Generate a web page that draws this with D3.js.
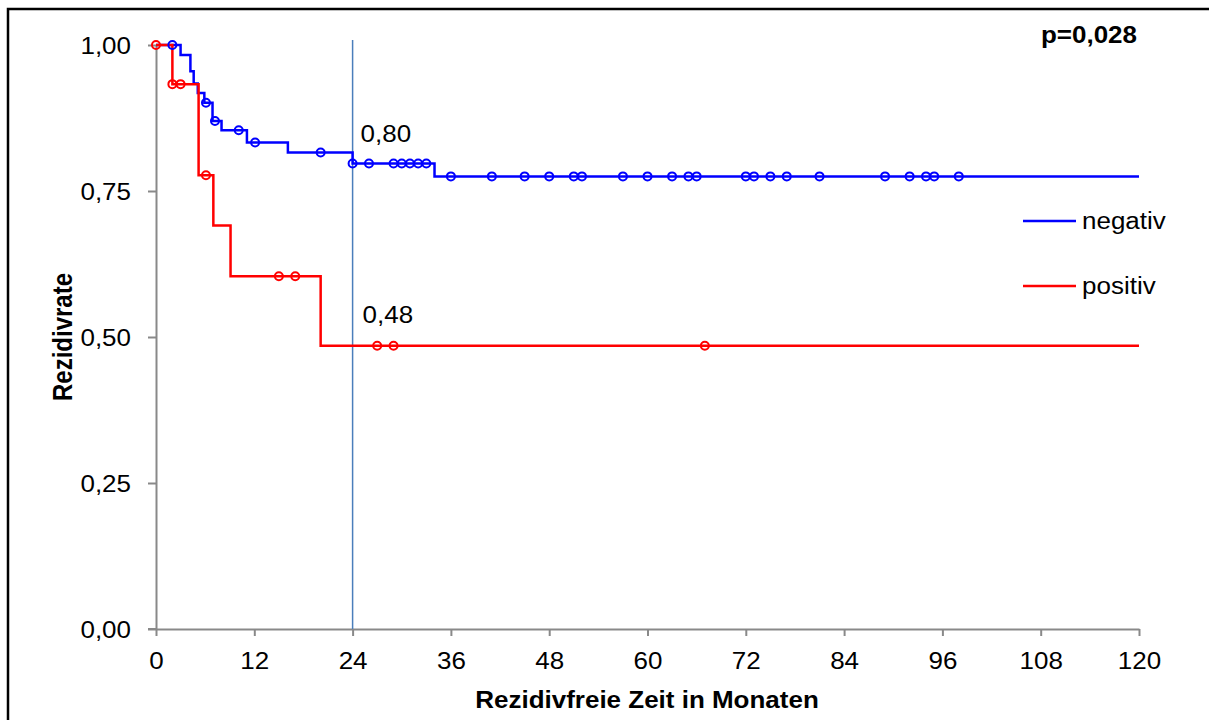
<!DOCTYPE html>
<html lang="de">
<head>
<meta charset="utf-8">
<title>Rezidivrate</title>
<script src="https://cdn.jsdelivr.net/npm/d3@7"></script>
<style>
  body { margin: 0; background: #fff; }
  text { font-family: "Liberation Sans", Arial, sans-serif; fill: #000; }
</style>
</head>
<body>
<script>
// Kaplan-Meier Daten
var negTime = [0, 3, 4.2, 4.6, 5.1, 5.9, 6.9, 8.0, 11.1, 16.1, 24.0, 34.0, 120];
var negSurv = [1.0, 0.983, 0.955, 0.934, 0.918, 0.901, 0.870, 0.854, 0.833, 0.816, 0.797, 0.775, 0.775];
var negCensor = [2, 6.1, 7.2, 10.1, 12.1, 20.1, 24, 26, 29, 30, 31, 32, 33, 36, 41, 45, 48, 51, 52,
                 57, 60, 63, 65, 66, 72, 73, 75, 77, 81, 89, 92, 94, 95, 98];

var posTime = [0, 2.0, 5.2, 7.0, 9.1, 20.1, 120];
var posSurv = [1.0, 0.933, 0.777, 0.691, 0.604, 0.485, 0.485];
var posCensor = [0, 2, 3, 6.1, 15, 17, 27, 29, 67];

var xTicks = [0, 12, 24, 36, 48, 60, 72, 84, 96, 108, 120];
var yTicks = [0, 0.25, 0.5, 0.75, 1.0];
var seriesNames = ["negativ", "positiv"];
var seriesColors = ["#0000ff", "#ff0000"];
var refTime = 24;
var refLabels = ["0,80", "0,48"];
var pText = "p=0,028";

var w = 1209, h = 720;
var stretch = 1.13; // die Vorlage ist horizontal etwas gestreckt

var svg = d3.select("body").append("svg")
  .attr("width", w)
  .attr("height", h);

// Rahmen
svg.append("rect")
  .attr("x", 8).attr("y", 9)
  .attr("width", 1220).attr("height", 740)
  .attr("fill", "none")
  .attr("stroke", "#000")
  .attr("stroke-width", 2.5);

var x = d3.scaleLinear().domain([0, 120]).range([156, 1139]);
var y = d3.scaleLinear().domain([0, 1]).range([629, 45]);

function label(g, tx, ty, str, opts) {
  opts = opts || {};
  return g.append("text")
    .attr("transform", "translate(" + tx + "," + ty + ") scale(" + stretch + ",1)" + (opts.rotate ? " rotate(-90)" : ""))
    .attr("text-anchor", opts.anchor || "start")
    .attr("font-size", (opts.size || 23) + "px")
    .attr("font-weight", opts.bold ? "bold" : "normal")
    .text(str);
}

// Achsen
var axisColor = "#898989";
var xAxis = svg.append("g")
  .attr("transform", "translate(0," + y(0) + ")")
  .call(d3.axisBottom(x).tickValues(xTicks).tickSize(7).tickSizeOuter(0).tickFormat(d3.format("d")));
var yAxis = svg.append("g")
  .attr("transform", "translate(" + x(0) + ",0)")
  .call(d3.axisLeft(y).tickValues(yTicks).tickSize(8).tickSizeOuter(0)
    .tickFormat(function(d) { return d3.format(".2f")(d).replace(".", ","); }));

[xAxis, yAxis].forEach(function(a) {
  a.select(".domain").attr("stroke", axisColor).attr("stroke-width", 2);
  a.selectAll(".tick line").attr("stroke", axisColor).attr("stroke-width", 2);
  a.selectAll(".tick text")
    .attr("font-family", "Liberation Sans, Arial, sans-serif")
    .attr("font-size", "23px")
    .attr("fill", "#000");
});
xAxis.selectAll(".tick text").attr("y", 0).attr("dy", 0)
  .attr("transform", "translate(0,40) scale(" + stretch + ",1)");
yAxis.selectAll(".tick text").attr("x", 0).attr("dy", "0.36em")
  .attr("transform", "translate(-25,0) scale(" + stretch + ",1)");
// x-Achse etwas nach links verlängert
xAxis.append("line").attr("x1", x(0) - 8).attr("x2", x(0))
  .attr("stroke", axisColor).attr("stroke-width", 2);

// Achsentitel
label(svg, 647, 708, "Rezidivfreie Zeit in Monaten", { anchor: "middle", bold: true });
label(svg, 72, 337, "Rezidivrate", { anchor: "middle", bold: true, rotate: true, size: 24 });

// Referenzlinie bei 24 Monaten
svg.append("line")
  .attr("x1", x(refTime)).attr("x2", x(refTime))
  .attr("y1", 40).attr("y2", y(0))
  .attr("stroke", "#4a7ebb").attr("stroke-width", 1.5);

var line = d3.line()
  .x(function(d) { return x(d[0]); })
  .y(function(d) { return y(d[1]); })
  .curve(d3.curveStepAfter);

function survAt(times, surv, t) {
  var v = surv[0];
  for (var i = 0; i < times.length; i++) if (times[i] <= t + 1e-9) v = surv[i];
  return v;
}

var series = [
  { times: negTime, surv: negSurv, cens: negCensor, color: seriesColors[0] },
  { times: posTime, surv: posSurv, cens: posCensor, color: seriesColors[1] }
];

series.forEach(function(s) {
  svg.append("path")
    .datum(d3.zip(s.times, s.surv))
    .attr("d", line)
    .attr("fill", "none")
    .attr("stroke", s.color)
    .attr("stroke-width", 2.5);
});

series.forEach(function(s) {
  svg.selectAll(null)
    .data(s.cens)
    .enter()
    .append("circle")
    .attr("cx", function(d) { return x(d); })
    .attr("cy", function(d) { return y(survAt(s.times, s.surv, d)); })
    .attr("r", 4)
    .attr("fill", "none")
    .attr("stroke", s.color)
    .attr("stroke-width", 2);
});

// Werte bei 24 Monaten
label(svg, x(refTime) + 8, 142, refLabels[0]);
label(svg, x(refTime) + 10, 323, refLabels[1]);

// p-Wert
label(svg, 1137, 43, pText, { anchor: "end", bold: true });

// Legende
seriesNames.forEach(function(n, i) {
  var ly = 221 + i * 65;
  svg.append("line")
    .attr("x1", 1023).attr("x2", 1076)
    .attr("y1", ly).attr("y2", ly)
    .attr("stroke", seriesColors[i]).attr("stroke-width", 2.5);
  label(svg, 1082, ly + 8, n);
});
</script>
</body>
</html>
